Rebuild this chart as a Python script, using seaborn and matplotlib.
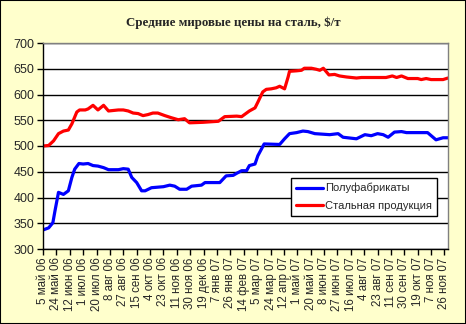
import matplotlib
matplotlib.use("Agg")
import matplotlib.pyplot as plt
import seaborn as sns
import pandas as pd

# Days since 5 May 2006
semi_days = [0, 8, 14, 17, 22, 29, 36, 41, 45, 51, 57, 64, 71, 78, 86, 93, 107, 114, 121, 126,
             133, 140, 145, 154, 171, 180, 187, 194, 204, 211, 225, 230, 251, 260, 270, 275,
             282, 289, 293, 301, 305, 314, 336, 343, 350, 360, 369, 376, 386, 407, 419, 426,
             445, 457, 466, 475, 483, 490, 499, 509, 516, 546, 558, 568, 575]
semi_vals = [337, 341, 351, 374, 410, 406, 413, 439, 455, 466, 465, 466, 462, 461, 458, 454, 454,
             456, 455, 439, 429, 413, 413, 419, 421, 424, 422, 416, 416, 422, 424, 429, 429, 442,
             443, 447, 452, 452, 462, 465, 481, 504, 503, 514, 524, 526, 529, 528, 524, 522, 524,
             517, 514, 522, 520, 524, 522, 517, 527, 528, 526, 526, 512, 516, 516]

steel_days = [0, 8, 15, 22, 29, 36, 41, 48, 52, 60, 64, 71, 78, 86, 93, 100, 107, 114, 121, 128,
              135, 142, 149, 156, 163, 173, 182, 192, 201, 208, 227, 249, 258, 275, 282, 286, 293,
              301, 305, 312, 317, 324, 331, 336, 343, 348, 350, 360, 367, 371, 381, 388, 393, 398,
              406, 414, 421, 431, 445, 452, 468, 487, 496, 502, 509, 518, 532, 537, 544, 551, 568, 575]
steel_vals = [500, 501, 510, 524, 529, 531, 543, 566, 570, 570, 572, 579, 570, 579, 568, 569, 570,
              570, 568, 564, 563, 559, 561, 564, 564, 559, 555, 551, 553, 545, 546, 548, 557, 558,
              557, 561, 568, 574, 585, 605, 610, 611, 613, 616, 611, 634, 645, 646, 647, 651, 651,
              649, 647, 651, 638, 639, 636, 634, 632, 633, 633, 633, 636, 633, 636, 631, 631, 629,
              631, 629, 629, 632]

series_names = ["Полуфабрикаты", "Стальная продукция"]
series_colors = ["#0000FF", "#FF0000"]

tick_labels = ["5 май 06", "24 май 06", "12 июн 06", "1 июл 06", "20 июл 06", "8 авг 06",
               "27 авг 06", "15 сен 06", "4 окт 06", "23 окт 06", "11 ноя 06", "30 ноя 06",
               "19 дек 06", "7 янв 07", "26 янв 07", "14 фев 07", "5 мар 07", "24 мар 07",
               "12 апр 07", "1 май 07", "20 май 07", "8 июн 07", "27 июн 07", "16 июл 07",
               "4 авг 07", "23 авг 07", "11 сен 07", "30 сен 07", "19 окт 07", "7 ноя 07",
               "26 ноя 07"]
tick_step = 19

y_ticks = [300, 350, 400, 450, 500, 550, 600, 650, 700]

df = pd.concat([
    pd.DataFrame({"day": semi_days, "price": semi_vals, "series": series_names[0]}),
    pd.DataFrame({"day": steel_days, "price": steel_vals, "series": series_names[1]}),
])

sns.set_style("white")
plt.rcParams["font.family"] = ["Liberation Sans", "DejaVu Sans"]

fig = plt.figure(figsize=(4.66, 3.24), dpi=100, facecolor="#FFFFCC")
ax = fig.add_axes([43 / 466, 1 - 249 / 324, 405 / 466, 206 / 324])
ax.set_facecolor("white")

sns.lineplot(data=df, x="day", y="price", hue="series", hue_order=series_names,
             palette=dict(zip(series_names, series_colors)), linewidth=2.3, ax=ax,
             estimator=None, sort=True)

ax.set_xlim(0, 575)
ax.set_ylim(300, 700)
ax.set_yticks(y_ticks)
ax.set_yticklabels([str(v) for v in y_ticks], fontsize=9)
ax.set_xticks([i * tick_step for i in range(len(tick_labels))])
ax.set_xticklabels(tick_labels, rotation=90, fontsize=8.3)
ax.set_xlabel("")
ax.set_ylabel("")
ax.yaxis.grid(True, color="black", linewidth=1)
ax.set_axisbelow(True)
ax.tick_params(axis="both", direction="out", length=4, width=1, color="black", pad=2,
               left=True, bottom=True)
for s in ["left", "bottom"]:
    ax.spines[s].set_color("black")
    ax.spines[s].set_linewidth(1)
for s in ["top", "right"]:
    ax.spines[s].set_color("#808080")
    ax.spines[s].set_linewidth(1)

leg = ax.legend(loc="upper left", bbox_to_anchor=(0.612, 0.345), frameon=True, fancybox=False,
                edgecolor="black", facecolor="white", framealpha=1, fontsize=8,
                handlelength=2.4, handletextpad=0.2, borderpad=0.45, labelspacing=0.7,
                borderaxespad=0)
leg.get_frame().set_linewidth(1)

fig.text(0.5, 1 - 23 / 324, "Средние мировые цены на сталь, $/т", ha="center", va="center",
         fontsize=9.3, fontweight="bold", family=["Liberation Serif", "DejaVu Serif"])

fig.patches.append(plt.Rectangle((0, 0), 1, 1, transform=fig.transFigure, fill=False,
                                 edgecolor="black", linewidth=1.5))

fig.savefig("out.png", dpi=100, facecolor="#FFFFCC")
